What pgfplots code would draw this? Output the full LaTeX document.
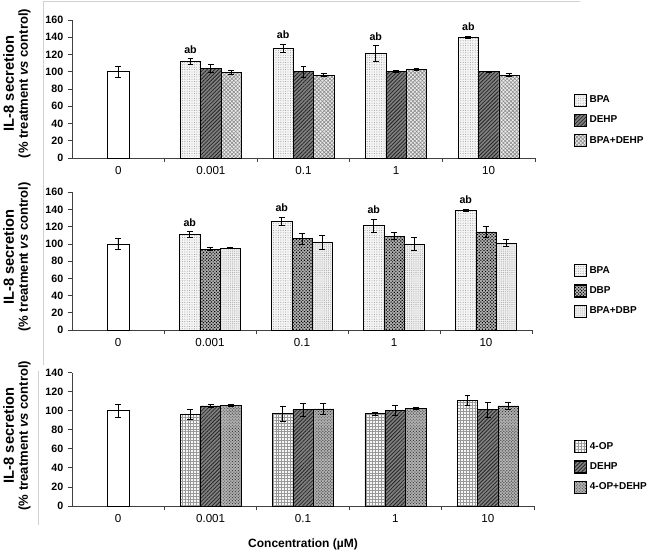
\documentclass[border=0pt]{standalone}
\usepackage{fontspec}
\setmainfont{Liberation Sans}
\usepackage{pgfplots}
\pgfplotsset{compat=1.18}
\usetikzlibrary{patterns,patterns.meta}

\tikzset{ab/.style={font=\fontsize{8}{9}\selectfont\bfseries, anchor=south, inner sep=0pt, yshift=4pt}}
\newcommand{\ylab}{\begin{tabular}{@{}c@{}}\fontsize{11}{11}\selectfont\bfseries IL-8 secretion\\[-1.5pt]\fontsize{9.8}{10}\selectfont\bfseries (\% treatment \textit{vs} control)\end{tabular}}

\pgfplotsset{
  ybar legend/.style={legend image code/.code={\draw[##1, draw=black, line width=0.9pt] (0pt,-4.5pt) rectangle (9pt,4.5pt);}},
  panel/.style={
    scale only axis,
    anchor=south west,
    xmin=-0.5, xmax=4.5,
    ymin=0,
    axis x line*=bottom,
    axis y line*=left,
    axis line style={black!75, line width=0.6pt},
    xtick={0,1,2,3,4},
    xticklabels={0,0.001,0.1,1,10},
    minor xtick={0.5,1.5,2.5,3.5,4.5},
    major x tick style={draw=none},
    minor tick length=3pt,
    major tick length=3pt,
    tick align=outside,
    tick style={black!75, line width=0.6pt},
    /pgf/number format/assume math mode=true,
    yticklabel style={font=\fontsize{8}{9}\selectfont\bfseries},
    xticklabel style={font=\fontsize{8.7}{10}\selectfont},
    ylabel={\ylab},
    every axis y label/.style={rotate=90, anchor=south, inner sep=0pt},
    clip=false,
    ybar, bar width=0.22,
    error bars/y dir=both, error bars/y explicit,
    error bars/error bar style={black, line width=0.6pt},
    error bars/error mark options={rotate=90, mark size=2.2pt, line width=0.6pt, black},
    legend style={draw=none, fill=none, font=\fontsize{7.5}{9}\selectfont\bfseries, anchor=west, row sep=4.5pt, cells={anchor=west}, inner sep=0pt},
  },
  bpa/.style={draw=black, line width=0.5pt, fill=black!4, postaction={pattern={Dots[distance=1.8pt, radius=0.35pt]}, pattern color=black!45}},
  dehp/.style={draw=black, line width=0.5pt, fill=black!50, postaction={pattern={Lines[angle=45, distance=2pt, line width=0.6pt]}, pattern color=black!85}},
  bpadehp/.style={draw=black, line width=0.5pt, fill=black!8, postaction={pattern={Hatch[angle=45, distance=2pt, line width=0.45pt]}, pattern color=black!45}},
  dbp/.style={draw=black, line width=0.5pt, fill=black!30, postaction={pattern={Dots[angle=45, distance=1.7pt, radius=0.6pt]}, pattern color=black}},
  bpadbp/.style={draw=black, line width=0.5pt, fill=black!6, postaction={pattern={Dots[distance=1.6pt, radius=0.4pt]}, pattern color=black!35}},
  op/.style={draw=black, line width=0.5pt, fill=black!3, postaction={pattern={Hatch[angle=0, distance=2.2pt, line width=0.35pt]}, pattern color=black!40}},
  opdehp/.style={draw=black, line width=0.5pt, fill=black!30, postaction={pattern={Dots[angle=45, distance=1.6pt, radius=0.5pt]}, pattern color=black!75}},
  ctrl/.style={draw=black, line width=0.5pt, fill=white, bar width=0.24, bar shift=0, forget plot},
}

\begin{document}
\begin{tikzpicture}
\useasboundingbox (0,0) rectangle (488.25pt,414pt);
% faint chart-area frames
\draw[black!18, line width=0.5pt] (32.25pt,413.25pt) -- (435pt,413.25pt);
\draw[black!18, line width=0.5pt] (32.25pt,413.25pt) -- (32.25pt,140pt);
\draw[black!18, line width=0.5pt] (28.5pt,136pt) -- (28.5pt,20pt);

% ---------- top panel ----------
\begin{axis}[panel, at={(54pt,295.5pt)}, width=347.25pt, height=103.5pt,
  ymax=160, ytick={0,20,...,160},
  ylabel style={at={(axis description cs:-0.0842,0.54)}},
  legend style={at={(axis description cs:1.083,0.272)}}]
\addplot[ctrl] coordinates {(0,100) +- (0,6)};
\addplot[bpa, bar shift=-0.22] coordinates {(1,112) +- (0,3) (2,127) +- (0,5) (3,121) +- (0,9) (4,140) +- (0,1)};
\addplot[dehp, bar shift=0] coordinates {(1,104) +- (0,5) (2,100) +- (0,6) (3,100) +- (0,1) (4,100) +- (0,0.5)};
\addplot[bpadehp, bar shift=0.22] coordinates {(1,99) +- (0,2.5) (2,96) +- (0,1.5) (3,103) +- (0,1) (4,96) +- (0,1.5)};
\legend{BPA,DEHP,BPA+DEHP}
\node[ab] at (axis cs:0.78,115) {ab};
\node[ab] at (axis cs:1.78,132) {ab};
\node[ab] at (axis cs:2.78,130) {ab};
\node[ab] at (axis cs:3.78,141) {ab};
\end{axis}

% ---------- middle panel ----------
\begin{axis}[panel, at={(54pt,166.5pt)}, width=345pt, height=103.3pt,
  ymax=160, ytick={0,20,...,160},
  ylabel style={at={(axis description cs:-0.0848,0.53)}},
  legend style={at={(axis description cs:1.09,0.283)}}]
\addplot[ctrl] coordinates {(0,100) +- (0,6)};
\addplot[bpa, bar shift=-0.22] coordinates {(1,111) +- (0,3) (2,126) +- (0,5) (3,121) +- (0,8) (4,139) +- (0,1)};
\addplot[dbp, bar shift=0] coordinates {(1,94) +- (0,1.5) (2,106) +- (0,6) (3,109) +- (0,4) (4,114) +- (0,6)};
\addplot[bpadbp, bar shift=0.22] coordinates {(1,95) +- (0,0.5) (2,102) +- (0,8) (3,100) +- (0,8) (4,101) +- (0,4)};
\legend{BPA,DBP,BPA+DBP}
\node[ab] at (axis cs:0.78,114) {ab};
\node[ab] at (axis cs:1.78,131) {ab};
\node[ab] at (axis cs:2.78,129) {ab};
\node[ab] at (axis cs:3.78,140) {ab};
\end{axis}

% ---------- bottom panel ----------
\begin{axis}[panel, at={(54pt,34.5pt)}, width=346.5pt, height=100pt,
  ymax=140, ytick={0,20,...,140},
  ylabel style={at={(axis description cs:-0.0844,0.528)}},
  xlabel={Concentration (µM)},
  xlabel style={font=\fontsize{9}{10}\selectfont\bfseries, yshift=-5pt},
  legend style={at={(axis description cs:1.086,0.292)}}]
\addplot[ctrl] coordinates {(0,100) +- (0,7)};
\addplot[op, bar shift=-0.22] coordinates {(1,96) +- (0,5) (2,97) +- (0,8) (3,97) +- (0,1.5) (4,111) +- (0,5)};
\addplot[dehp, bar shift=0] coordinates {(1,105) +- (0,1.5) (2,101) +- (0,7) (3,100.5) +- (0,5) (4,101) +- (0,8)};
\addplot[opdehp, bar shift=0.22] coordinates {(1,106) +- (0,1) (2,102) +- (0,6) (3,102.5) +- (0,1) (4,105) +- (0,4)};
\legend{4-OP,DEHP,4-OP+DEHP}
\end{axis}
\end{tikzpicture}
\end{document}
